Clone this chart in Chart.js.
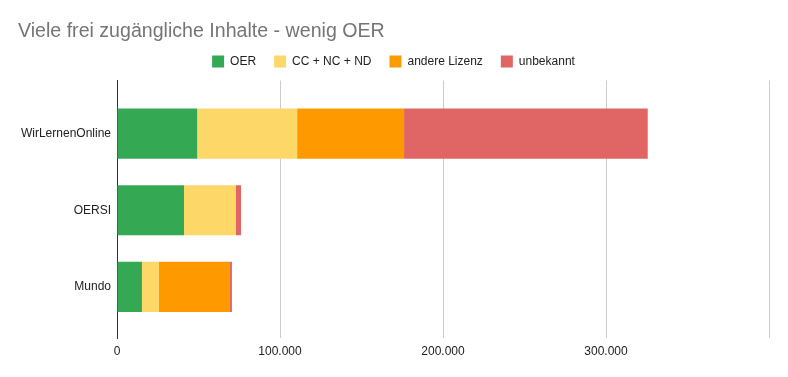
<!DOCTYPE html>
<html>
<head>
<meta charset="utf-8">
<script src="https://cdn.jsdelivr.net/npm/chart.js@4/dist/chart.umd.min.js"></script>
<style>
  html, body { margin: 0; padding: 0; background: #ffffff; }
  #wrap { width: 788px; height: 377px; }
</style>
</head>
<body>
<div id="wrap"><canvas id="c" width="788" height="377"></canvas></div>
<script>
const categories = ['WirLernenOnline', 'OERSI', 'Mundo'];
const seriesNames = ['OER', 'CC + NC + ND', 'andere Lizenz', 'unbekannt'];
const oer = [49200, 41100, 15300];
const ccNcNd = [61300, 31900, 10400];
const andereLizenz = [65600, 0, 43600];
const unbekannt = [149500, 3100, 1200];
const xTicks = [0, 100000, 200000, 300000, 400000];
const colors = ['#34a853', '#fdd868', '#ff9900', '#e06666'];

const seriesValues = [oer, ccNcNd, andereLizenz, unbekannt];

function fmt(v) {
  return String(v).replace(/\B(?=(\d{3})+(?!\d))/g, '.');
}

const datasets = seriesValues.map((vals, i) => ({
  label: seriesNames[i],
  data: vals.map((v, j) => ({ x: v, y: j })),
  backgroundColor: colors[i],
  borderWidth: 0,
  xAxisID: 'x',
  yAxisID: 'y',
  categoryPercentage: 1,
  barPercentage: 0.654
}));

const FONT = '"Liberation Sans", Arial, sans-serif';

new Chart(document.getElementById('c'), {
  type: 'bar',
  data: { datasets },
  options: {
    responsive: false,
    animation: false,
    indexAxis: 'y',
    layout: { padding: { left: 18, right: 19, top: 0, bottom: 0 } },
    plugins: {
      title: {
        display: true,
        text: 'Viele frei zugängliche Inhalte - wenig OER',
        align: 'start',
        color: '#757575',
        font: { family: FONT, size: 19.6, weight: 'normal', lineHeight: 1.2 },
        padding: { top: 20, bottom: -6 }
      },
      legend: {
        display: true,
        position: 'top',
        align: 'center',
        labels: {
          boxWidth: 12,
          boxHeight: 12,
          padding: 18,
          color: '#222222',
          font: { family: FONT, size: 12 }
        }
      },
      tooltip: { enabled: false }
    },
    scales: {
      x: {
        type: 'linear',
        position: 'bottom',
        stacked: true,
        min: xTicks[0],
        max: xTicks[xTicks.length - 1],
        afterBuildTicks: (s) => { s.ticks = xTicks.map(v => ({ value: v })); },
        ticks: {
          color: '#222222',
          font: { family: FONT, size: 12 },
          padding: 6,
          maxRotation: 0,
          callback: (v) => (v >= xTicks[xTicks.length - 1] ? '' : fmt(v))
        },
        grid: { color: '#cccccc', lineWidth: 1, drawTicks: false },
        border: { display: false },
        afterFit: (s) => { s.height = 39; }
      },
      gap: {
        type: 'linear',
        axis: 'x',
        position: 'top',
        display: true,
        grid: { display: false, drawTicks: false },
        ticks: { display: false },
        border: { display: false },
        afterFit: (s) => { s.height = 3; }
      },
      y: {
        type: 'linear',
        position: 'left',
        stacked: true,
        reverse: true,
        offset: false,
        min: -0.693,
        max: 2.667,
        afterBuildTicks: (s) => { s.ticks = categories.map((c, i) => ({ value: i })); },
        ticks: {
          color: '#222222',
          font: { family: FONT, size: 12 },
          padding: 6,
          callback: (v) => categories[v] || ''
        },
        grid: { display: false, drawTicks: false, offset: false },
        border: { display: true, color: '#333333', width: 1 },
        afterFit: (s) => { s.width = 99; }
      }
    }
  }
});
</script>
</body>
</html>
